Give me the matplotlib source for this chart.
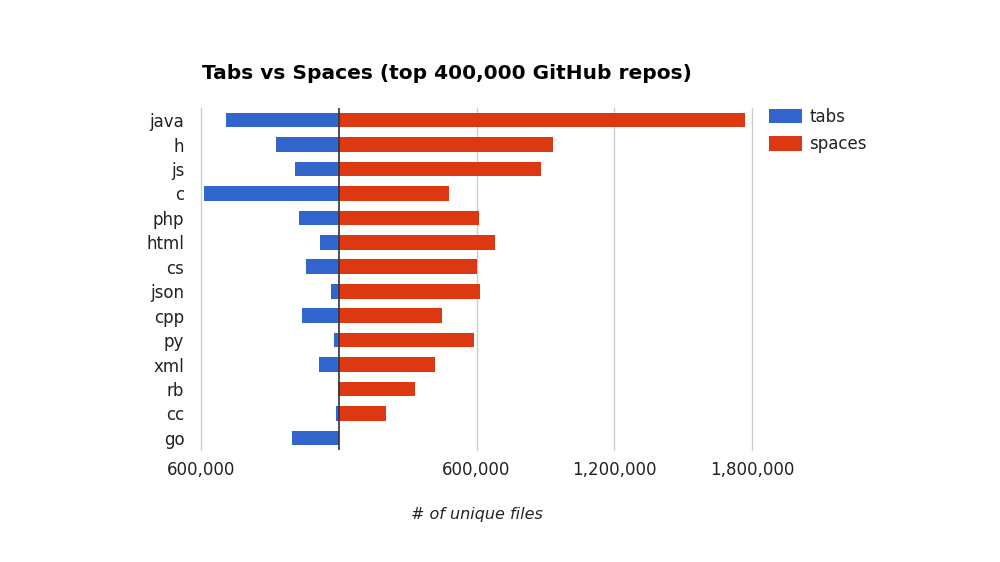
#!/usr/bin/env python3
"""
Tabs vs spaces in the top 400,000 GitHub repos, as a diverging bar chart.
"""
import matplotlib
matplotlib.use("Agg")
import matplotlib.pyplot as plt
from matplotlib.ticker import FuncFormatter

# Values (# of unique files)
languages = ["java", "h", "js", "c", "php", "html", "cs",
             "json", "cpp", "py", "xml", "rb", "cc", "go"]
tabs = [492000, 274000, 192000, 585000, 175000, 83000, 144000,
        34000, 160000, 22000, 88000, 3000, 12000, 202000]
spaces = [1768000, 932000, 883000, 479000, 610000, 679000, 600000,
          615000, 451000, 588000, 419000, 331000, 205000, 0]
xticks = [-600000, 0, 600000, 1200000, 1800000]

BLUE = "#3366cc"
RED = "#dc3912"
TEXT = "#222222"

plt.rcParams["font.family"] = ["DejaVu Sans"]


def fmt(v, _pos):
    if v == 0:
        return ""
    return f"{abs(int(v)):,}"


def main():
    fig = plt.figure(figsize=(10, 5.62), dpi=100)
    ax = fig.add_axes([0.201, 0.199, 0.551, 0.609])

    y = range(len(languages))
    ax.barh(y, [-t for t in tabs], height=0.6, color=BLUE, label="tabs", zorder=3)
    ax.barh(y, spaces, height=0.6, color=RED, label="spaces", zorder=3)

    ax.set_ylim(len(languages) - 0.5, -0.5)
    ax.set_xlim(-600000, 1800000)
    ax.set_yticks(list(y))
    ax.set_yticklabels(languages)
    ax.set_xticks(xticks)
    ax.xaxis.set_major_formatter(FuncFormatter(fmt))

    # gridlines, with the zero line drawn darker
    for v in xticks:
        if v == 0:
            ax.axvline(v, color="#333333", lw=1.2, zorder=4)
        else:
            ax.axvline(v, color="#cccccc", lw=1, zorder=1, clip_on=False)

    for s in ax.spines.values():
        s.set_visible(False)
    ax.tick_params(axis="both", length=0, labelsize=12, colors=TEXT)
    ax.tick_params(axis="y", pad=12)
    ax.tick_params(axis="x", pad=8)

    ax.set_xlabel("# of unique files", fontsize=11.5, style="italic",
                  color=TEXT, labelpad=20)
    fig.text(0.202, 0.87, "Tabs vs Spaces (top 400,000 GitHub repos)",
             fontsize=14.5, fontweight="bold", color="#000000",
             ha="left", va="center")

    fig.legend(loc="upper left", bbox_to_anchor=(0.754, 0.835),
               frameon=False, fontsize=12, handlelength=2.0,
               handleheight=1.0, handletextpad=0.4, labelspacing=0.55,
               labelcolor=TEXT)

    fig.savefig("out.png", dpi=100)


if __name__ == "__main__":
    main()
